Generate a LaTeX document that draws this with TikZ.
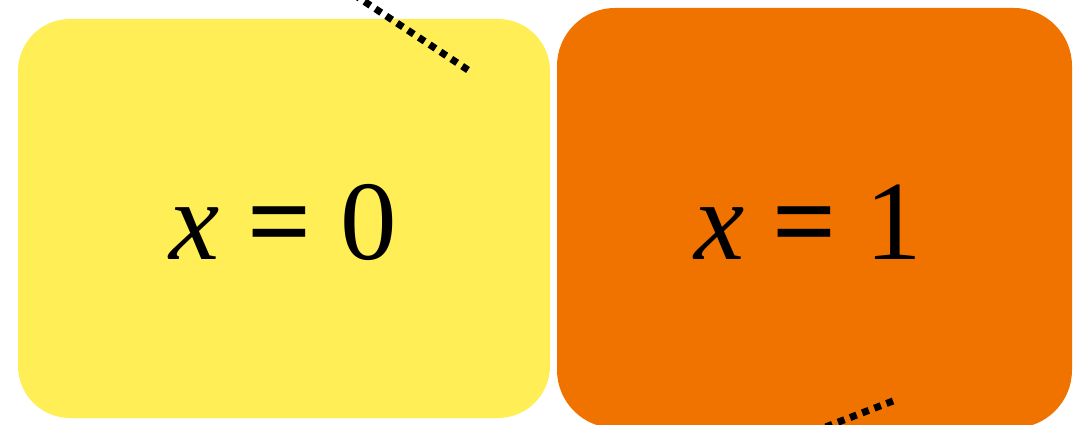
\documentclass[tikz,border=0pt]{standalone}
\usepackage{fontspec}
\setmainfont{Liberation Serif}
\definecolor{yel}{HTML}{FFEE55}
\definecolor{org}{HTML}{F07300}
\begin{document}
\begin{tikzpicture}[x=1pt,y=-1pt,
  dots/.style={line width=7pt, dash pattern=on 7pt off 6pt, black},
  lbl/.style={font=\fontsize{113}{113}\selectfont, anchor=base}]
\useasboundingbox (0,0) rectangle (1088,425);
\begin{scope}
\clip (0,0) rectangle (1088,425);
\fill[yel, rounded corners=52pt] (18,19) rectangle (550,418);
\fill[org, rounded corners=58pt] (557,8) rectangle (1072,428);
\coordinate (a1) at (350,-8);
\coordinate (a2) at (468,70);
\draw[dots] (a2) -- (a1);
\coordinate (b1) at (893,401);
\coordinate (b2) at (810,433);
\draw[dots] (b1) -- (b2);
\end{scope}
\node[lbl] (t0) at (283,259) {\textit{x} \textbf{=} 0};
\node[lbl] (t1) at (808,259) {\textit{x} \textbf{=} 1};
\end{tikzpicture}
\end{document}
